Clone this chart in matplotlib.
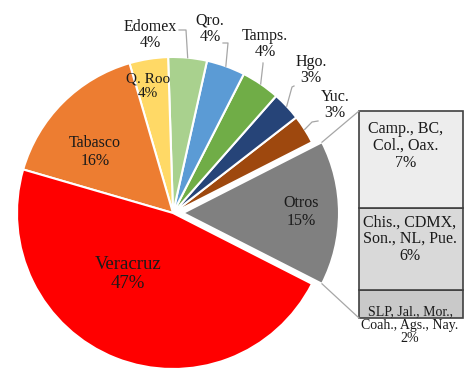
import numpy as np
import matplotlib.pyplot as plt

# pie data (counterclockwise from the exploded "Otros" slice)
states = ['Otros', 'Yuc.', 'Hgo.', 'Tamps.', 'Qro.', 'Edomex', 'Q. Roo', 'Tabasco', 'Veracruz']
shares = [15, 3, 3, 4, 4, 4, 4, 16, 47]
colors = ['#808080', '#9E480E', '#264478', '#70AD47', '#5B9BD5', '#A9D18E',
          '#FFD966', '#ED7D31', '#FF0000']

# breakdown of "Otros" (bottom to top)
otros_groups = ['SLP, Jal., Mor.,\nCoah., Ags., Nay.', 'Chis., CDMX,\nSon., NL, Pue.',
                'Camp., BC,\nCol., Oax.']
otros_shares = [2, 6, 7]
bar_colors = ['#C9C9C9', '#D9D9D9', '#EDEDED']

W, H = 472, 384
fig = plt.figure(figsize=(W / 100, H / 100), dpi=100)
ax = fig.add_axes([0, 0, 1, 1])
plt.rcParams['font.family'] = ['Liberation Serif', 'DejaVu Serif']

cx, cy, R = 173, H - 213, 156
# explode offset is in data units (pixels here)
explode = [10] + [0] * (len(shares) - 1)
start = -shares[0] / 2 * 3.6
wedges, _ = ax.pie(shares, colors=colors, startangle=start, counterclock=True,
                   explode=explode, center=(cx, cy), radius=R,
                   wedgeprops=dict(edgecolor='white', linewidth=1.5))

txt = '#1a1a1a'

def px(x, y):
    return x, H - y

# labels inside slices (pixel positions)
inside = {'Otros': (301, 212, 11.5), 'Q. Roo': (148, 86, 11),
          'Tabasco': (95, 152, 11.5), 'Veracruz': (128, 274, 13.5)}
# outside labels: text position, leader start, elbow
outside = {'Edomex': ((150, 35), (179, 30), (186, 30)),
           'Qro.': ((210, 29), (223, 43), (228, 43)),
           'Tamps.': ((265, 44), (263, 63), (263, 64)),
           'Hgo.': ((311, 70), (294, 86), (292, 87)),
           'Yuc.': ((335, 105), (318, 121), (312, 122))}

for w, name, val in zip(wedges, states, shares):
    label = f'{name}\n{val}%'
    if name in inside:
        x, y, fs = inside[name]
        ax.text(*px(x, y), label, ha='center', va='center', fontsize=fs,
                color=txt, linespacing=1.15)
    else:
        (tx, ty), s, e = outside[name]
        ax.text(*px(tx, ty), label, ha='center', va='center', fontsize=11.5,
                color=txt, linespacing=1.05)
        mid = np.deg2rad((w.theta1 + w.theta2) / 2)
        ex = w.center[0] + w.r * np.cos(mid)
        ey = w.center[1] + w.r * np.sin(mid)
        ax.plot([s[0], e[0], ex], [H - s[1], H - e[1], ey], color='#A6A6A6', lw=0.9)

# stacked bar for "Otros"
bx, bw, bbot = 411, 104, H - 318
scale = 207 / sum(otros_shares)
bottom = bbot
for grp, val, col in zip(otros_groups, otros_shares, bar_colors):
    ax.bar(bx, val * scale, width=bw, bottom=bottom, color=col,
           edgecolor='#404040', linewidth=1.2)
    bottom += val * scale

label_pos = [(410, 325, 10), (410, 239, 11.5), (406, 146, 11.5)]
for grp, val, (x, y, fs) in zip(otros_groups, otros_shares, label_pos):
    ax.text(*px(x, y), f'{grp}\n{val}%', ha='center', va='center', fontsize=fs,
            color=txt, linespacing=1.05)

# connector lines from "Otros" slice to bar
ow = wedges[0]
for ang, yb in [(ow.theta2, bottom), (ow.theta1, bbot)]:
    a = np.deg2rad(ang)
    x0 = ow.center[0] + ow.r * np.cos(a)
    y0 = ow.center[1] + ow.r * np.sin(a)
    ax.plot([x0, bx - bw / 2], [y0, yb], color='#A6A6A6', lw=0.9)

ax.set_xlim(0, W)
ax.set_ylim(0, H)
ax.set_aspect('equal')
ax.axis('off')
fig.savefig('out.png', dpi=100)
